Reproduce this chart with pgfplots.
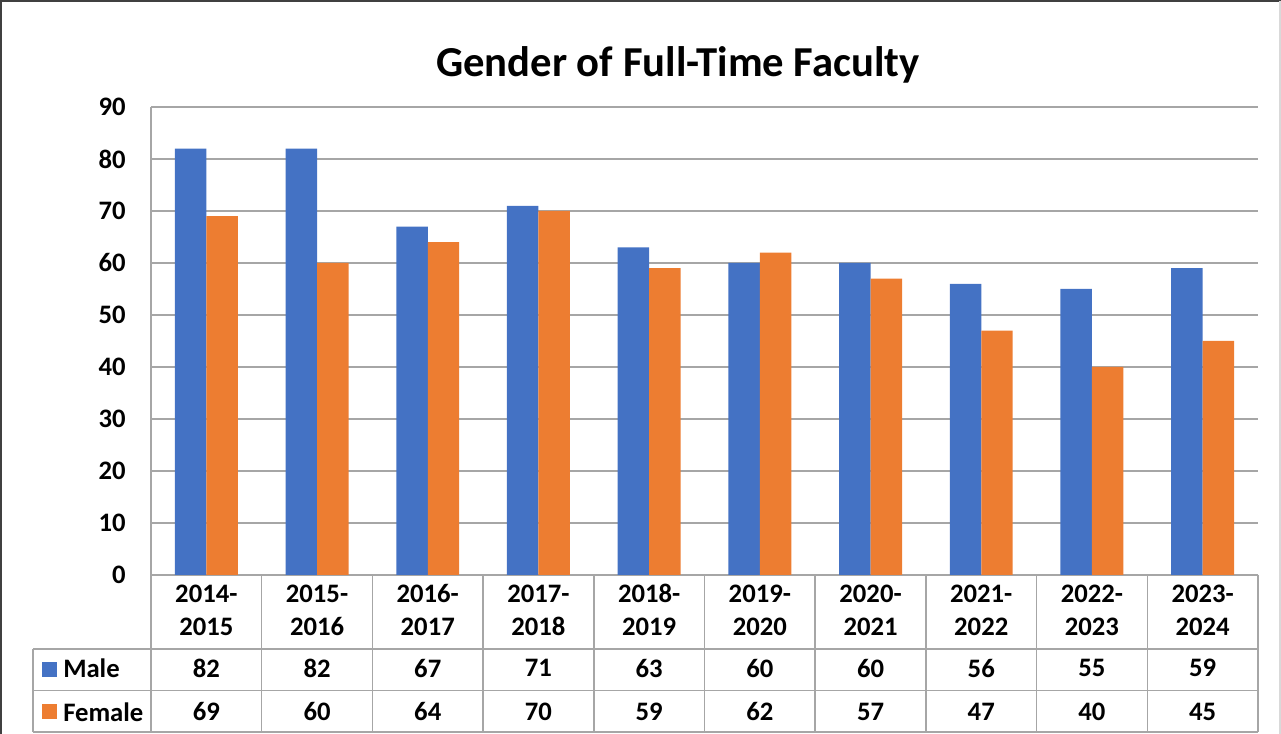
\documentclass[border=0pt]{standalone}
\usepackage{pgfplots}
\pgfplotsset{compat=1.18}
\usepackage{fontspec}
\setmainfont{Carlito}
\definecolor{male}{HTML}{4472C4}
\definecolor{female}{HTML}{ED7D31}
\definecolor{gridc}{HTML}{A6A6A6}
\newcommand\tf{\fontsize{20}{24.75}\selectfont\bfseries}
\begin{document}
\begin{tikzpicture}[x=0.75pt,y=0.75pt]
\useasboundingbox (0,0) rectangle (1281,734);
\begin{axis}[
  at={(113.25pt,119.25pt)}, anchor=south west,
  scale only axis, width=830.25pt, height=351pt,
  xmin=-0.5, xmax=9.5, ymin=0, ymax=90,
  ytick={0,10,...,90},
  xtick={0,...,9},
  xticklabels={{\rule{0pt}{16pt}2014-\\2015},{\rule{0pt}{16pt}2015-\\2016},{\rule{0pt}{16pt}2016-\\2017},{\rule{0pt}{16pt}2017-\\2018},{\rule{0pt}{16pt}2018-\\2019},{\rule{0pt}{16pt}2019-\\2020},{\rule{0pt}{16pt}2020-\\2021},{\rule{0pt}{16pt}2021-\\2022},{\rule{0pt}{16pt}2022-\\2023},{\rule{0pt}{16pt}2023-\\2024}},
  xticklabel style={align=center, font=\tf, anchor=north, inner sep=0pt, yshift=-4.8pt},
  yticklabel style={font=\tf, anchor=east, inner sep=0pt, xshift=-18.75pt},
  /pgf/number format/assume math mode=true,
  major tick length=0pt,
  ymajorgrids, grid style={gridc, line width=1.1pt},
  axis lines*=left, axis line style={gridc, line width=1.1pt},
  clip=false,
]
\addplot[ybar, bar width=23.6pt, bar shift=-11.8pt, fill=male, draw=none]
  coordinates {(0,82)(1,82)(2,67)(3,71)(4,63)(5,60)(6,60)(7,56)(8,55)(9,59)};
\addplot[ybar, bar width=23.6pt, bar shift=11.8pt, fill=female, draw=none]
  coordinates {(0,69)(1,60)(2,64)(3,70)(4,59)(5,62)(6,57)(7,47)(8,40)(9,45)};
% data table values (from the same numbers)
\addplot[draw=none, mark=none, forget plot, point meta=rawy, y filter/.expression={-17.95},
  nodes near coords, every node near coord/.append style={anchor=center, font=\tf, text=black}]
  coordinates {(0,82)(1,82)(2,67)(3,71)(4,63)(5,60)(6,60)(7,56)(8,55)(9,59)};
\addplot[draw=none, mark=none, forget plot, point meta=rawy, y filter/.expression={-26.29},
  nodes near coords, every node near coord/.append style={anchor=center, font=\tf, text=black}]
  coordinates {(0,69)(1,60)(2,64)(3,70)(4,59)(5,62)(6,57)(7,47)(8,40)(9,45)};
% table grid
\pgfplotsinvokeforeach{-0.5,0.5,1.5,2.5,3.5,4.5,5.5,6.5,7.5,8.5,9.5}{
  \draw[gridc, line width=1.1pt] (axis cs:#1,0) -- (axis cs:#1,-30.19);
}
\draw[gridc, line width=1.1pt] (axis cs:-1.566,-14.23) -- (axis cs:9.5,-14.23);
\draw[gridc, line width=1.1pt] (axis cs:-1.566,-22.25) -- (axis cs:9.5,-22.25);
\draw[gridc, line width=1.1pt] (axis cs:-1.566,-30.19) -- (axis cs:9.5,-30.19);
\draw[gridc, line width=1.1pt] (axis cs:-1.566,-14.23) -- (axis cs:-1.566,-30.19);
\draw[gridc, line width=1.1pt] (axis cs:9.5,0) -- (axis cs:9.5,-14.23);
\end{axis}
% legend keys of the data table
\fill[male] (42,57) rectangle (57,72);
\fill[female] (42,15) rectangle (57,30);
\node[anchor=west, inner sep=0pt, font=\tf] at (63,66) {Male};
\node[anchor=west, inner sep=0pt, font=\tf] at (63,22) {Female};
% title
\node[font=\fontsize{32}{38}\selectfont\bfseries] at (678,669) {Gender of Full-Time Faculty};
% frame
\draw[black!75, line width=1.5pt] (1,0) -- (1,733) -- (1281,733);
\draw[black!15, line width=1pt] (1280,0) -- (1280,733);
\end{tikzpicture}
\end{document}
